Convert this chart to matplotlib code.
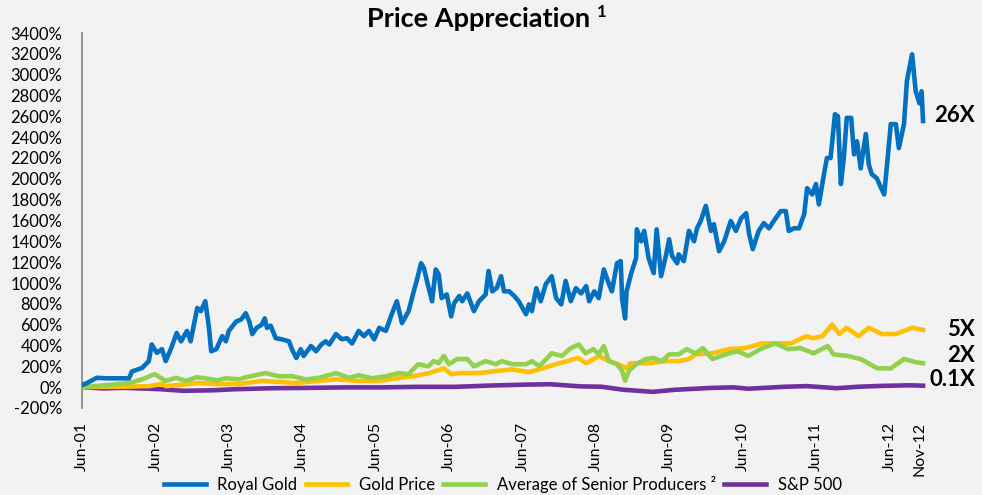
import matplotlib.pyplot as plt

plt.rcParams['font.family'] = ['Lato', 'DejaVu Sans']

# Royal Gold, % price appreciation since Jun-01 (decimal years)
rg_t = [2001.42, 2001.49, 2001.62, 2001.75, 2002.06, 2002.10, 2002.24, 2002.33, 2002.37, 2002.44,
        2002.51, 2002.56, 2002.63, 2002.71, 2002.77, 2002.85, 2002.90, 2002.99, 2003.04, 2003.10,
        2003.15, 2003.18, 2003.25, 2003.33, 2003.38, 2003.42, 2003.52, 2003.59, 2003.65, 2003.70,
        2003.74, 2003.80, 2003.87, 2003.91, 2003.94, 2003.99, 2004.06, 2004.14, 2004.24, 2004.28,
        2004.34, 2004.40, 2004.44, 2004.54, 2004.61, 2004.68, 2004.74, 2004.79, 2004.88, 2004.96,
        2005.03, 2005.10, 2005.19, 2005.26, 2005.33, 2005.40, 2005.47, 2005.56, 2005.64, 2005.71,
        2005.78, 2005.87, 2005.94, 2005.98, 2006.04, 2006.08, 2006.12, 2006.19, 2006.24, 2006.28,
        2006.32, 2006.39, 2006.45, 2006.49, 2006.56, 2006.60, 2006.67, 2006.76, 2006.83, 2006.92,
        2006.96, 2007.01, 2007.07, 2007.13, 2007.17, 2007.24, 2007.31, 2007.37, 2007.47, 2007.51,
        2007.55, 2007.61, 2007.67, 2007.74, 2007.82, 2007.88, 2007.95, 2008.01, 2008.08, 2008.15,
        2008.22, 2008.29, 2008.33, 2008.40, 2008.46, 2008.53, 2008.60, 2008.64, 2008.71, 2008.76,
        2008.78, 2008.82, 2008.84, 2008.90, 2008.97, 2008.98, 2009.04, 2009.08, 2009.14, 2009.21,
        2009.25, 2009.31, 2009.38, 2009.42, 2009.46, 2009.53, 2009.55, 2009.62, 2009.69, 2009.76,
        2009.80, 2009.85, 2009.92, 2009.99, 2010.03, 2010.10, 2010.17, 2010.26, 2010.33, 2010.40,
        2010.47, 2010.51, 2010.56, 2010.64, 2010.71, 2010.78, 2010.87, 2010.94, 2011.01, 2011.05,
        2011.12, 2011.19, 2011.26, 2011.30, 2011.37, 2011.42, 2011.46, 2011.53, 2011.57, 2011.62,
        2011.68, 2011.72, 2011.76, 2011.80, 2011.84, 2011.90, 2011.94, 2011.98, 2012.03, 2012.10,
        2012.14, 2012.18, 2012.25, 2012.31, 2012.35, 2012.39, 2012.44, 2012.51, 2012.55, 2012.62,
        2012.66, 2012.73, 2012.78, 2012.83, 2012.86, 2012.88]
rg_v = [20, 40, 90, 85, 85, 150, 185, 250, 410, 330,
        365, 250, 365, 520, 440, 540, 440, 760, 730, 825,
        570, 345, 365, 490, 440, 540, 630, 650, 710, 630,
        510, 570, 600, 660, 570, 590, 470, 460, 440, 365,
        280, 365, 300, 395, 345, 410, 440, 410, 510, 460,
        470, 420, 540, 490, 540, 460, 570, 540, 700, 825,
        615, 730, 920, 1020, 1190, 1140, 1020, 825, 1130, 1085,
        855, 890, 680, 805, 875, 825, 900, 730, 825, 890,
        1115, 920, 950, 1065, 920, 920, 875, 825, 700, 795,
        730, 950, 825, 990, 1065, 855, 795, 1020, 825, 950,
        900, 970, 825, 920, 855, 1130, 990, 920, 1190, 1210,
        845, 660, 920, 1085, 1240, 1515, 1400, 1500, 1240, 1095,
        1515, 1065, 1275, 1420, 1260, 1190, 1275, 1210, 1500, 1400,
        1525, 1595, 1740, 1500, 1565, 1305, 1400, 1595, 1500, 1620,
        1670, 1470, 1325, 1500, 1575, 1525, 1620, 1690, 1690, 1500,
        1525, 1525, 1660, 1910, 1850, 1950, 1755, 2045, 2200, 2200,
        2620, 2600, 1950, 2200, 2585, 2585, 2235, 2360, 2100, 2430,
        2140, 2045, 2005, 1910, 1850, 2140, 2525, 2525, 2295, 2525,
        2940, 3195, 2840, 2725, 2840, 2555]

# Gold price
gp_t = [2001.42, 2001.80, 2002.00, 2002.33, 2002.51, 2002.56, 2002.72, 2003.00, 2003.25, 2003.56,
        2003.87, 2004.34, 2004.88, 2005.20, 2005.47, 2005.75, 2005.93, 2006.15, 2006.35, 2006.45,
        2006.56, 2006.83, 2007.06, 2007.28, 2007.51, 2007.65, 2007.88, 2008.18, 2008.29, 2008.47,
        2008.54, 2008.72, 2008.85, 2008.89, 2009.15, 2009.37, 2009.55, 2009.69, 2009.78, 2010.00,
        2010.23, 2010.46, 2010.68, 2010.91, 2011.08, 2011.29, 2011.38, 2011.51, 2011.64, 2011.74,
        2011.84, 2012.00, 2012.14, 2012.32, 2012.51, 2012.73, 2012.88]
gp_v = [0, 5, 5, 10, 30, 10, 20, 40, 30, 30,
        60, 40, 75, 60, 60, 90, 105, 135, 180, 125,
        135, 135, 155, 170, 145, 170, 220, 280, 230, 300,
        270, 220, 180, 230, 230, 250, 250, 270, 315, 325,
        365, 375, 420, 420, 420, 490, 470, 490, 600, 510,
        570, 490, 570, 510, 510, 570, 550]

# Average of senior producers
sp_t = [2001.42, 2001.60, 2002.06, 2002.24, 2002.41, 2002.56, 2002.70, 2002.84, 2002.98, 2003.10,
        2003.26, 2003.38, 2003.56, 2003.65, 2003.92, 2004.10, 2004.28, 2004.47, 2004.65, 2004.88,
        2005.06, 2005.19, 2005.37, 2005.56, 2005.73, 2005.87, 2006.00, 2006.14, 2006.21, 2006.28,
        2006.35, 2006.42, 2006.53, 2006.67, 2006.76, 2006.92, 2007.06, 2007.14, 2007.28, 2007.47,
        2007.55, 2007.65, 2007.82, 2007.96, 2008.08, 2008.19, 2008.28, 2008.39, 2008.46, 2008.53,
        2008.60, 2008.71, 2008.78, 2008.82, 2008.87, 2008.97, 2009.10, 2009.21, 2009.32, 2009.42,
        2009.55, 2009.66, 2009.78, 2009.88, 2010.01, 2010.19, 2010.35, 2010.50, 2010.69, 2010.87,
        2011.04, 2011.21, 2011.39, 2011.58, 2011.66, 2011.85, 2012.03, 2012.26, 2012.44, 2012.62,
        2012.78, 2012.88]
sp_v = [0, 10, 40, 75, 125, 60, 90, 60, 95, 85,
        65, 85, 75, 95, 135, 105, 105, 75, 90, 135,
        90, 115, 85, 105, 135, 125, 220, 200, 250, 230,
        300, 220, 270, 270, 200, 250, 220, 250, 220, 220,
        250, 200, 325, 300, 375, 410, 325, 365, 315, 395,
        250, 220, 155, 60, 155, 220, 270, 280, 250, 315,
        315, 365, 325, 375, 270, 315, 345, 300, 375, 420,
        365, 375, 325, 395, 315, 300, 270, 180, 180, 270,
        240, 230]

# S&P 500
spx_t = [2001.42, 2001.70, 2002.00, 2002.50, 2002.80, 2003.20, 2003.50, 2004.00, 2004.50, 2005.00,
         2005.50, 2006.00, 2006.50, 2007.00, 2007.50, 2007.80, 2008.20, 2008.50, 2008.80, 2009.20,
         2009.50, 2010.00, 2010.30, 2010.50, 2011.00, 2011.30, 2011.70, 2012.00, 2012.30, 2012.70,
         2012.88]
spx_v = [0, -12, -6, -20, -35, -30, -20, -10, -7, -2,
         -2, 3, 3, 16, 25, 28, 8, 4, -25, -45,
         -25, -7, -2, -15, 4, 10, -10, 4, 12, 18,
         14]

tick_pos = [2001.42, 2002.42, 2003.42, 2004.42, 2005.42, 2006.42, 2007.42, 2008.42, 2009.42,
            2010.42, 2011.42, 2012.42, 2012.83]
tick_labels = ['Jun-01', 'Jun-02', 'Jun-03', 'Jun-04', 'Jun-05', 'Jun-06', 'Jun-07', 'Jun-08',
               'Jun-09', 'Jun-10', 'Jun-11', 'Jun-12', 'Nov-12']

fig = plt.figure(figsize=(9.82, 4.95), dpi=100)
fig.patch.set_facecolor('#f2f2f2')
ax = fig.add_axes([82 / 982, 1 - 408 / 495, 844 / 982, 375 / 495])
ax.set_facecolor('none')

lw = 3.3
ax.plot(spx_t, spx_v, color='#7030A0', lw=lw, label='S&P 500', zorder=2)
ax.plot(gp_t, gp_v, color='#FFC000', lw=lw, label='Gold Price', zorder=3)
ax.plot(sp_t, sp_v, color='#92D050', lw=lw, label='Average of Senior Producers ²', zorder=4)
ax.plot(rg_t, rg_v, color='#0070C0', lw=lw, label='Royal Gold', zorder=5)

ax.set_xlim(2001.42, 2012.92)
ax.set_ylim(-200, 3400)
ax.set_yticks(range(-200, 3401, 200))
ax.set_yticklabels([f'{v}%' for v in range(-200, 3401, 200)], fontsize=12)
ax.set_xticks(tick_pos)
ax.set_xticklabels(tick_labels, rotation=90, fontsize=11.5)
ax.tick_params(axis='both', length=0)
ax.tick_params(axis='x', pad=10)
ax.tick_params(axis='y', pad=14)
for s in ['top', 'right', 'bottom']:
    ax.spines[s].set_visible(False)
ax.spines['left'].set_color('#808080')
ax.spines['left'].set_linewidth(1.2)

fig.text(0.487, 0.962, 'Price Appreciation', ha='center', va='center',
         fontsize=19.5, fontweight='bold')
fig.text(0.608, 0.975, '1', ha='left', va='center', fontsize=12, fontweight='bold')

for txt, y in [('26X', 116), ('5X', 330), ('2X', 355), ('0.1X', 380)]:
    fig.text(975 / 982, 1 - y / 495, txt, ha='right', va='center',
             fontsize=16, fontweight='bold')

handles, labels = ax.get_legend_handles_labels()
order = [3, 1, 2, 0]
fig.legend([handles[i] for i in order], [labels[i] for i in order],
           loc='center', bbox_to_anchor=(0.512, 0.022), ncol=4, frameon=False,
           fontsize=12, handlelength=2.5, columnspacing=0.5, handletextpad=0.7)

fig.savefig('out.png', dpi=100, facecolor=fig.get_facecolor())
